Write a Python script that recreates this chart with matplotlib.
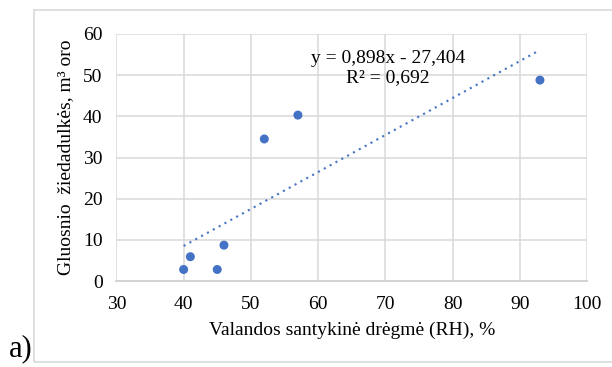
import matplotlib
matplotlib.use("Agg")
import matplotlib.pyplot as plt
import matplotlib.patches as mpatches
import numpy as np

# Data
rh = [40, 41, 45, 46, 52, 57, 93]
pollen = [2.8, 5.9, 2.8, 8.7, 34.5, 40.3, 48.8]
slope = 0.898
intercept = -27.404
trend_x = [40, 93]
x_ticks = [30, 40, 50, 60, 70, 80, 90, 100]
y_ticks = [0, 10, 20, 30, 40, 50, 60]
eq_text = "y = 0,898x - 27,404\nR² = 0,692"
x_label = "Valandos santykinė drėgmė (RH), %"
y_label = "Gluosnio  žiedadulkės, m³ oro"
panel_label = "a)"

plt.rcParams['font.family'] = ['Liberation Serif', 'DejaVu Serif']

fig = plt.figure(figsize=(6.12, 3.67), dpi=100)
W, H = 612, 367

# outer border
rect = mpatches.Rectangle((33.5 / W, 1 - 361.5 / H), 1.2, (361.5 - 10) / H,
                          transform=fig.transFigure, fill=False,
                          edgecolor='#d9d9d9', linewidth=1.2)
fig.patches.append(rect)

ax = fig.add_axes([116.4 / W, 1 - 281 / H, (587 - 116.4) / W, (281 - 34) / H])
ax.set_xlim(30, 100)
ax.set_ylim(0, 60)
ax.set_xticks(x_ticks)
ax.set_yticks(y_ticks)
ax.grid(True, color='#d9d9d9', linewidth=1.1)
ax.set_axisbelow(True)
for s in ['top', 'right', 'left']:
    ax.spines[s].set_visible(False)
ax.spines['bottom'].set_color('#d0d0d0')
ax.spines['bottom'].set_linewidth(1.3)
ax.tick_params(length=0, labelsize=14, colors='#000000')
ax.tick_params(axis='x', pad=11)
ax.tick_params(axis='y', pad=10)

ax.scatter(rh, pollen, s=42, color='#4472C4', zorder=3, edgecolors='none')
tx = np.array(trend_x, dtype=float)
ax.plot(tx, slope * tx + intercept, color='#4472C4', linewidth=1.5,
        linestyle=(0, (1, 2.2)), zorder=2)

ax.text(70.4, 51.7, eq_text, ha='center', va='center', fontsize=14,
        linespacing=1.15)

ax.set_xlabel(x_label, fontsize=14, labelpad=6)
ax.set_ylabel(y_label, fontsize=14, labelpad=6)

fig.text(9 / W, 1 - 349 / H, panel_label, fontsize=22, ha='left', va='center')

fig.savefig('out.png', dpi=100)
